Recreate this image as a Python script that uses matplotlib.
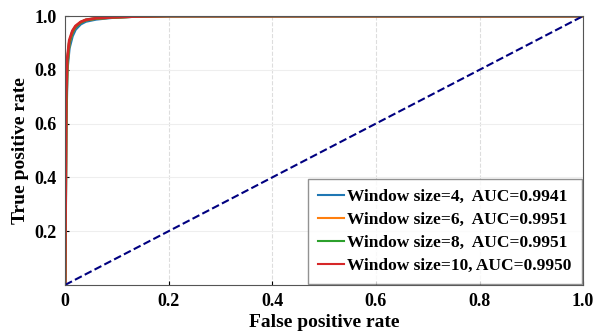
import matplotlib.pyplot as plt
import numpy as np

plt.rcParams["font.family"] = ["Liberation Serif", "DejaVu Serif"]
plt.rcParams["font.weight"] = "bold"

# ROC points
fpr_4 = [0.0, 0.002, 0.004, 0.008, 0.014, 0.02, 0.03, 0.04, 0.06, 0.09, 0.13, 0.2, 0.4, 1.0]
tpr_4 = [0.0, 0.60, 0.80, 0.88, 0.925, 0.95, 0.97, 0.98, 0.988, 0.994, 0.998, 1.0, 1.0, 1.0]
fpr_6 = [0.0, 0.002, 0.004, 0.008, 0.014, 0.02, 0.03, 0.04, 0.06, 0.09, 0.13, 0.2, 0.4, 1.0]
tpr_6 = [0.0, 0.65, 0.82, 0.90, 0.94, 0.96, 0.977, 0.985, 0.991, 0.995, 0.998, 1.0, 1.0, 1.0]
fpr_8 = [0.0, 0.002, 0.004, 0.008, 0.014, 0.02, 0.03, 0.04, 0.06, 0.09, 0.13, 0.2, 0.4, 1.0]
tpr_8 = [0.0, 0.64, 0.82, 0.90, 0.94, 0.96, 0.976, 0.985, 0.991, 0.995, 0.998, 1.0, 1.0, 1.0]
fpr_10 = [0.0, 0.002, 0.004, 0.008, 0.014, 0.02, 0.03, 0.04, 0.06, 0.09, 0.13, 0.2, 0.4, 1.0]
tpr_10 = [0.0, 0.70, 0.84, 0.91, 0.945, 0.963, 0.978, 0.986, 0.992, 0.995, 0.998, 1.0, 1.0, 1.0]

labels = [
    "Window size=4,  AUC=0.9941",
    "Window size=6,  AUC=0.9951",
    "Window size=8,  AUC=0.9951",
    "Window size=10, AUC=0.9950",
]
colors = ["#1f77b4", "#ff7f0e", "#2ca02c", "#d62728"]

fig = plt.figure(figsize=(6.03, 3.34), dpi=100)
ax = fig.add_axes([0.108, 0.147, 0.859, 0.805])

for fx, ty, lab, c in zip([fpr_4, fpr_6, fpr_8, fpr_10],
                          [tpr_4, tpr_6, tpr_8, tpr_10], labels, colors):
    ax.plot(fx, ty, color=c, lw=2, label=lab)

ax.plot([0, 1], [0, 1], color="navy", lw=1.5, linestyle="--")

ax.set_xlim(0, 1)
ax.set_ylim(0, 1)
ax.set_xticks([0, 0.2, 0.4, 0.6, 0.8, 1.0])
ax.set_xticklabels(["0", "0.2", "0.4", "0.6", "0.8", "1.0"])
ax.set_yticks([0.2, 0.4, 0.6, 0.8, 1.0])
ax.set_yticklabels(["0.2", "0.4", "0.6", "0.8", "1.0"])
ax.tick_params(direction="in", length=3, labelsize=13, pad=6)
ax.xaxis.grid(True, linestyle="--", color="#dddddd", lw=0.8)
ax.yaxis.grid(True, linestyle="-", color="#eeeeee", lw=0.8)
ax.set_axisbelow(True)
for s in ax.spines.values():
    s.set_color("#555555")

ax.set_xlabel("False positive rate", fontsize=14, fontweight="bold", labelpad=3)
ax.set_ylabel("True positive rate", fontsize=14, fontweight="bold", labelpad=4)

leg = ax.legend(loc="lower right", prop={"weight": "bold", "size": 12.5},
                fancybox=False, edgecolor="#777777", handlelength=1.5,
                handletextpad=0.2, borderaxespad=0.05, labelspacing=0.38,
                borderpad=0.6)
leg.get_frame().set_linewidth(1.0)
for ln in leg.get_lines():
    ln.set_linewidth(1.5)

fig.savefig("out.png", dpi=100)
